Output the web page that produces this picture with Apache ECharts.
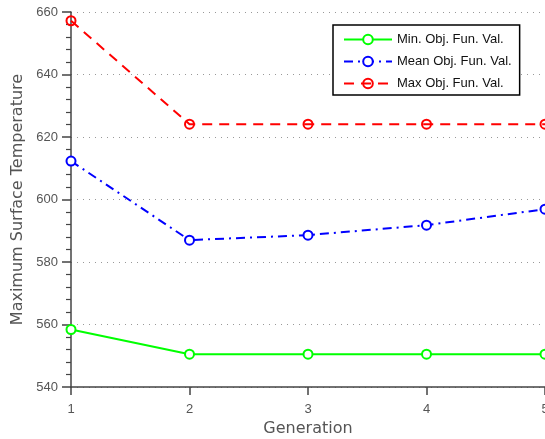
<!DOCTYPE html>
<html><head><meta charset="utf-8">
<script src="https://cdn.jsdelivr.net/npm/echarts@6/dist/echarts.min.js"></script>
<style>html,body{margin:0;padding:0;background:#fff;overflow:hidden}#c{width:545px;height:439px}</style>
</head><body><div id="c"></div>
<script>
const generations = [1, 2, 3, 4, 5];
const minVals = [558.4, 550.5, 550.5, 550.5, 550.5];
const meanVals = [612.3, 587.0, 588.6, 591.8, 596.9];
const maxVals = [657.2, 624.1, 624.1, 624.1, 624.1];
const yTicks = [540, 560, 580, 600, 620, 640, 660];

const chart = echarts.init(document.getElementById('c'), null, {renderer: 'canvas', width: 545, height: 439});
const font = 'Liberation Sans';
const titleFont = 'DejaVu Sans';
function mk(name, vals, color, dash, fill) {
  return {
    name: name, type: 'line',
    data: generations.map((g, i) => [g, vals[i]]),
    symbol: 'circle', symbolSize: 9, showSymbol: true,
    lineStyle: {color: color, width: 2, type: dash},
    itemStyle: {color: fill, borderColor: color, borderWidth: 2},
    emphasis: {disabled: true}, animation: false, z: 3
  };
}
chart.setOption({
  animation: false,
  grid: {left: 71, top: 12, right: 0, bottom: 52, containLabel: false, outerBoundsMode: 'none'},
  legend: {
    orient: 'vertical', left: 333, top: 25,
    itemWidth: 48, itemHeight: 12, itemGap: 9,
    padding: [8, 8, 5, 10],
    borderColor: '#000', borderWidth: 1.5, backgroundColor: '#fff',
    textStyle: {fontFamily: font, fontSize: 13, color: '#111'},
    data: ['Min. Obj. Fun. Val.', 'Mean Obj. Fun. Val.', 'Max Obj. Fun. Val.']
  },
  xAxis: {
    type: 'value', min: 1, max: 5, interval: 1,
    name: 'Generation', nameLocation: 'middle', nameGap: 34,
    nameTextStyle: {fontFamily: titleFont, fontSize: 16, color: '#555'},
    axisLine: {show: true, lineStyle: {color: '#444', width: 1.5}},
    axisTick: {show: true, inside: false, length: 8, lineStyle: {color: '#444', width: 1.5}},
    axisLabel: {fontFamily: font, fontSize: 13, color: '#555', margin: 16},
    splitLine: {show: false}
  },
  yAxis: {
    type: 'value', min: yTicks[0], max: yTicks[yTicks.length - 1], interval: 20,
    name: 'Maximum Surface Temperature', nameLocation: 'middle', nameGap: 44,
    nameTextStyle: {fontFamily: titleFont, fontSize: 16, color: '#555'},
    axisLine: {show: true, lineStyle: {color: '#444', width: 1.5}},
    axisTick: {show: true, inside: false, length: 9, lineStyle: {color: '#444', width: 1.5}},
    minorTick: {show: true, splitNumber: 5, length: 5, lineStyle: {color: '#444', width: 1.2}},
    axisLabel: {fontFamily: font, fontSize: 13, color: '#555', margin: 13},
    splitLine: {show: true, lineStyle: {color: '#999', width: 1, type: [1, 5]}}
  },
  series: [
    mk('Min. Obj. Fun. Val.', minVals, '#00ff00', 'solid', '#fff'),
    mk('Mean Obj. Fun. Val.', meanVals, '#0000ff', [9, 5, 2, 5], '#fff'),
    mk('Max Obj. Fun. Val.', maxVals, '#ff0000', [10, 7], 'rgba(255,255,255,0)')
  ]
});
</script></body></html>
